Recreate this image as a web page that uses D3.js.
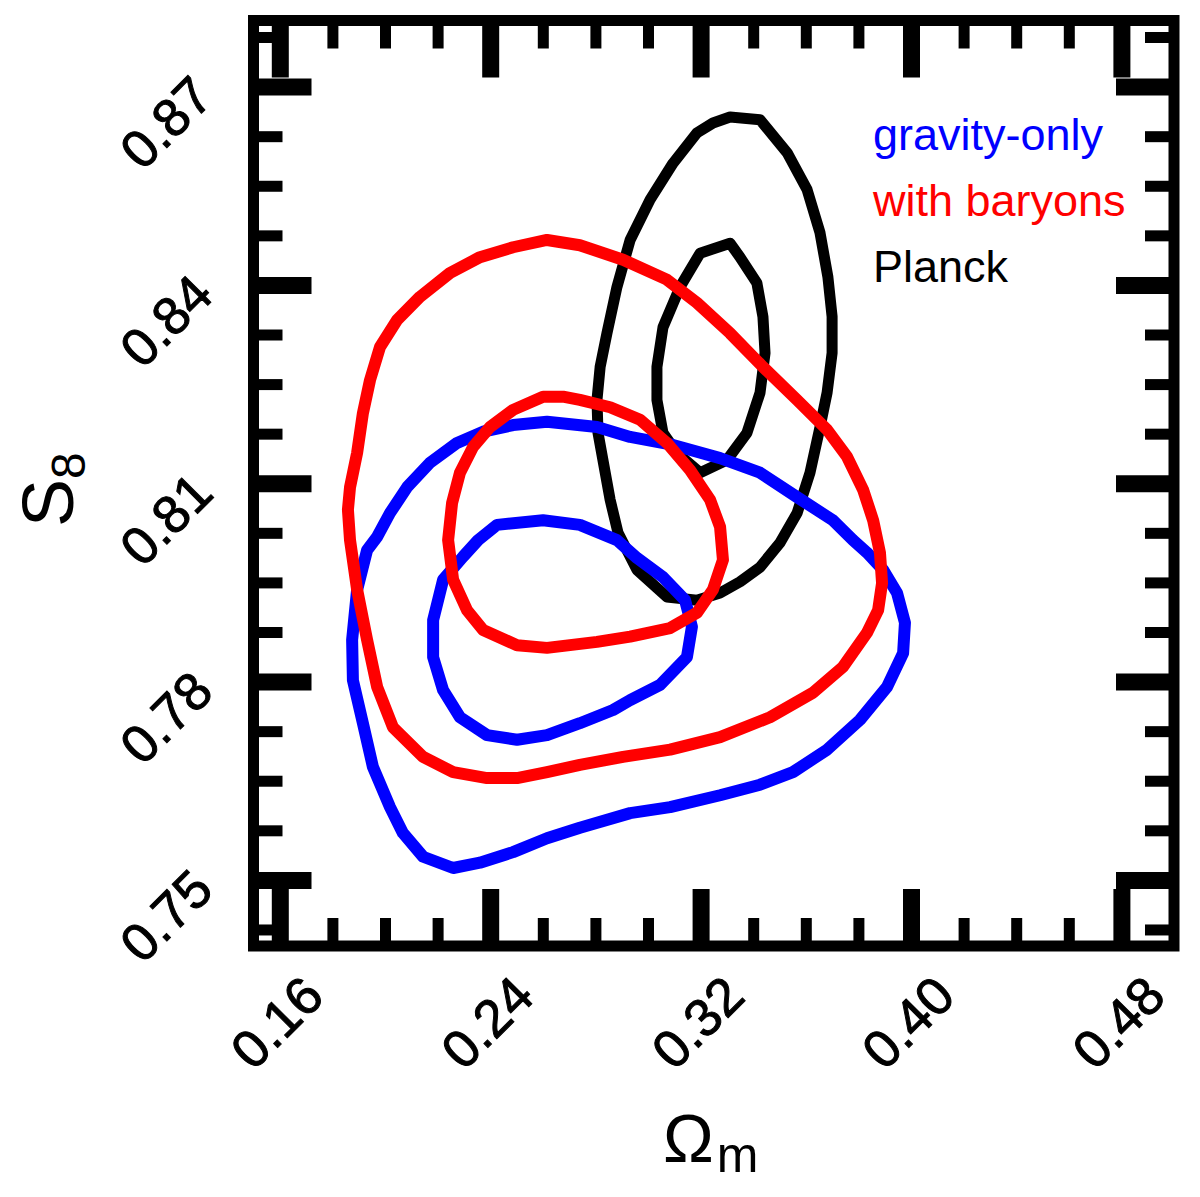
<!DOCTYPE html>
<html>
<head>
<meta charset="utf-8">
<script src="https://cdn.jsdelivr.net/npm/d3@7"></script>
<style>
  body { margin: 0; background: #fff; }
  svg text { font-family: "Liberation Sans", Arial, Helvetica, sans-serif; }
</style>
</head>
<body>
<svg id="chart" width="1200" height="1197"></svg>
<script>
// contour points, [Omega_m, S8]
var planckOuter = [
  [0.3312, 0.8654], [0.3426, 0.8650], [0.3529, 0.8600], [0.3605, 0.8544], [0.3654, 0.8479],
  [0.3684, 0.8412], [0.3700, 0.8352], [0.3700, 0.8297], [0.3681, 0.8237], [0.3654, 0.8185],
  [0.3616, 0.8116], [0.3567, 0.8055], [0.3502, 0.8010], [0.3426, 0.7973], [0.3350, 0.7951],
  [0.3274, 0.7934], [0.3186, 0.7923], [0.3072, 0.7928], [0.2958, 0.7969], [0.2886, 0.8025],
  [0.2856, 0.8075], [0.2810, 0.8176], [0.2806, 0.8226], [0.2818, 0.8276], [0.2844, 0.8327],
  [0.2882, 0.8397], [0.2932, 0.8468], [0.3008, 0.8529], [0.3095, 0.8584], [0.3186, 0.8630],
  [0.3247, 0.8645]
];
var planckInner = [
  [0.3312, 0.8463], [0.3350, 0.8442], [0.3414, 0.8403], [0.3437, 0.8352], [0.3445, 0.8297],
  [0.3426, 0.8237], [0.3376, 0.8176], [0.3300, 0.8135], [0.3198, 0.8116], [0.3110, 0.8146],
  [0.3057, 0.8176], [0.3034, 0.8226], [0.3034, 0.8276], [0.3057, 0.8336], [0.3122, 0.8397],
  [0.3198, 0.8448]
];
var gravityOuter = [
  [0.2487, 0.8188], [0.2616, 0.8193], [0.2806, 0.8185], [0.2932, 0.8170], [0.3095, 0.8158],
  [0.3274, 0.8138], [0.3426, 0.8116], [0.3567, 0.8079], [0.3703, 0.8044], [0.3779, 0.8014],
  [0.3833, 0.7995], [0.3894, 0.7969], [0.3947, 0.7934], [0.3977, 0.7889], [0.3970, 0.7843],
  [0.3909, 0.7792], [0.3806, 0.7742], [0.3681, 0.7697], [0.3551, 0.7663], [0.3426, 0.7644],
  [0.3274, 0.7628], [0.3084, 0.7610], [0.2932, 0.7601], [0.2741, 0.7579], [0.2616, 0.7563],
  [0.2487, 0.7542], [0.2361, 0.7526], [0.2259, 0.7518], [0.2145, 0.7535], [0.2068, 0.7571],
  [0.2019, 0.7610], [0.1954, 0.7671], [0.1916, 0.7737], [0.1878, 0.7802], [0.1875, 0.7863],
  [0.1894, 0.7939], [0.1932, 0.7999], [0.1970, 0.8019], [0.2019, 0.8055], [0.2084, 0.8094],
  [0.2171, 0.8131], [0.2274, 0.8161], [0.2373, 0.8178]
];
var gravityInner = [
  [0.2601, 0.8044], [0.2741, 0.8037], [0.2882, 0.8014], [0.2958, 0.7987], [0.3057, 0.7958],
  [0.3141, 0.7923], [0.3167, 0.7883], [0.3148, 0.7837], [0.3046, 0.7795], [0.2932, 0.7772],
  [0.2867, 0.7757], [0.2741, 0.7737], [0.2616, 0.7719], [0.2502, 0.7712], [0.2388, 0.7719],
  [0.2285, 0.7746], [0.2221, 0.7787], [0.2183, 0.7837], [0.2183, 0.7893], [0.2221, 0.7954],
  [0.2297, 0.7989], [0.2354, 0.8014], [0.2426, 0.8037]
];
var baryonOuter = [
  [0.2616, 0.8468], [0.2741, 0.8460], [0.2905, 0.8438], [0.3072, 0.8408], [0.3186, 0.8373],
  [0.3312, 0.8327], [0.3437, 0.8276], [0.3567, 0.8226], [0.3681, 0.8181], [0.3757, 0.8140],
  [0.3818, 0.8090], [0.3856, 0.8044], [0.3882, 0.7995], [0.3890, 0.7949], [0.3875, 0.7908],
  [0.3833, 0.7874], [0.3741, 0.7822], [0.3627, 0.7783], [0.3464, 0.7746], [0.3274, 0.7716],
  [0.3084, 0.7697], [0.2905, 0.7686], [0.2741, 0.7674], [0.2616, 0.7663], [0.2502, 0.7654],
  [0.2388, 0.7654], [0.2259, 0.7663], [0.2145, 0.7686], [0.2030, 0.7731], [0.1970, 0.7792],
  [0.1932, 0.7863], [0.1894, 0.7939], [0.1867, 0.8014], [0.1859, 0.8060], [0.1867, 0.8094],
  [0.1894, 0.8146], [0.1916, 0.8206], [0.1943, 0.8256], [0.1981, 0.8306], [0.2046, 0.8347],
  [0.2133, 0.8382], [0.2247, 0.8418], [0.2361, 0.8442], [0.2487, 0.8457]
];
var baryonInner = [
  [0.2677, 0.8231], [0.2741, 0.8226], [0.2856, 0.8215], [0.2970, 0.8196], [0.3072, 0.8161],
  [0.3160, 0.8120], [0.3236, 0.8075], [0.3274, 0.8034], [0.3285, 0.7984], [0.3247, 0.7939],
  [0.3186, 0.7904], [0.3084, 0.7881], [0.2932, 0.7868], [0.2806, 0.7860], [0.2616, 0.7851],
  [0.2502, 0.7855], [0.2373, 0.7878], [0.2312, 0.7908], [0.2259, 0.7954], [0.2240, 0.8014],
  [0.2255, 0.8070], [0.2285, 0.8116], [0.2335, 0.8155], [0.2399, 0.8185], [0.2487, 0.8211],
  [0.2601, 0.8231]
];

var xMajor = [0.16, 0.24, 0.32, 0.40, 0.48];
var xMinor = [0.18, 0.20, 0.22, 0.26, 0.28, 0.30, 0.34, 0.36, 0.38, 0.42, 0.44, 0.46];
var yMajor = [0.75, 0.78, 0.81, 0.84, 0.87];
var yMinor = [0.7425, 0.7575, 0.765, 0.7725, 0.7875, 0.795, 0.8025, 0.8175, 0.825, 0.8325,
  0.8475, 0.855, 0.8625, 0.8775];

var legendLabels = ['gravity-only', 'with baryons', 'Planck'];
var legendColors = ['#0000ff', '#ff0000', '#000000'];

const frameLeft = 253.5, frameRight = 1174, frameTop = 20.5, frameBottom = 946;

var svg = d3.select('#chart');

var x = d3.scaleLinear().domain([0.15, 0.50]).range([frameLeft, frameRight]);
var y = d3.scaleLinear().domain([0.74, 0.88]).range([frameBottom, frameTop]);

var line = d3.line()
  .x(function(d) { return x(d[0]); })
  .y(function(d) { return y(d[1]); })
  .curve(d3.curveLinearClosed);

// contours: black under blue under red
var contours = [
  { pts: planckOuter, color: '#000000', w: 11 },
  { pts: planckInner, color: '#000000', w: 11 },
  { pts: gravityOuter, color: '#0000ff', w: 12 },
  { pts: gravityInner, color: '#0000ff', w: 12 },
  { pts: baryonOuter, color: '#ff0000', w: 12 },
  { pts: baryonInner, color: '#ff0000', w: 12 }
];

svg.append('g').selectAll('path')
  .data(contours)
  .enter()
  .append('path')
  .attr('d', function(c) { return line(c.pts); })
  .attr('fill', 'none')
  .attr('stroke', function(c) { return c.color; })
  .attr('stroke-width', function(c) { return c.w; })
  .attr('stroke-linejoin', 'round');

function drawAxis(axis, pos, ticks, size, width, labelled) {
  var g = svg.append('g')
    .attr('transform', 'translate(' + pos[0] + ',' + pos[1] + ')')
    .call(axis.tickValues(ticks).tickSize(-size)
      .tickFormat(labelled ? d3.format('.2f') : function() { return ''; }));
  g.select('.domain').remove();
  g.selectAll('.tick line')
    .attr('stroke', '#000')
    .attr('stroke-width', width);
  return g;
}

var xb = drawAxis(d3.axisBottom(x), [0, frameBottom], xMajor, 57, 17, true);
drawAxis(d3.axisBottom(x), [0, frameBottom], xMinor, 28, 11, false);
drawAxis(d3.axisTop(x), [0, frameTop], xMajor, 57, 17, false);
drawAxis(d3.axisTop(x), [0, frameTop], xMinor, 28, 11, false);
var yl = drawAxis(d3.axisLeft(y), [frameLeft, 0], yMajor, 58, 17, true);
drawAxis(d3.axisLeft(y), [frameLeft, 0], yMinor, 29, 11, false);
drawAxis(d3.axisRight(y), [frameRight, 0], yMajor, 58, 17, false);
drawAxis(d3.axisRight(y), [frameRight, 0], yMinor, 29, 11, false);

xb.selectAll('.tick text')
  .attr('x', null).attr('y', null).attr('dy', null)
  .attr('text-anchor', 'end')
  .attr('transform', 'translate(46,53) rotate(-45)');

yl.selectAll('.tick text')
  .attr('x', null).attr('y', null).attr('dy', null)
  .attr('text-anchor', 'end')
  .attr('transform', 'translate(-38,12) rotate(-45)');

svg.selectAll('.tick text')
  .attr('font-family', '"Liberation Sans", Arial, sans-serif')
  .attr('font-size', 53)
  .attr('fill', '#000')
  .attr('stroke', '#000')
  .attr('stroke-width', 1);

// frame
svg.append('rect')
  .attr('x', frameLeft)
  .attr('y', frameTop)
  .attr('width', frameRight - frameLeft)
  .attr('height', frameBottom - frameTop)
  .attr('fill', 'none')
  .attr('stroke', '#000')
  .attr('stroke-width', 11);

// axis titles
var xt = svg.append('text')
  .attr('x', 663)
  .attr('y', 1162)
  .attr('fill', '#000');
xt.append('tspan').attr('font-size', 68).text('Ω');
xt.append('tspan').attr('font-size', 50).attr('dx', 3).attr('dy', 10).text('m');

var yt = svg.append('text')
  .attr('transform', 'translate(73,527) rotate(-90)')
  .attr('fill', '#000');
yt.append('tspan').attr('font-size', 72).text('S');
yt.append('tspan').attr('font-size', 48).attr('dy', 12).text('8');

// legend
svg.append('g').selectAll('text')
  .data(legendLabels)
  .enter()
  .append('text')
  .attr('x', 873)
  .attr('y', function(d, i) { return 150 + i * 65.8; })
  .attr('font-size', 45)
  .attr('fill', function(d, i) { return legendColors[i]; })
  .text(function(d) { return d; });
</script>
</body>
</html>
